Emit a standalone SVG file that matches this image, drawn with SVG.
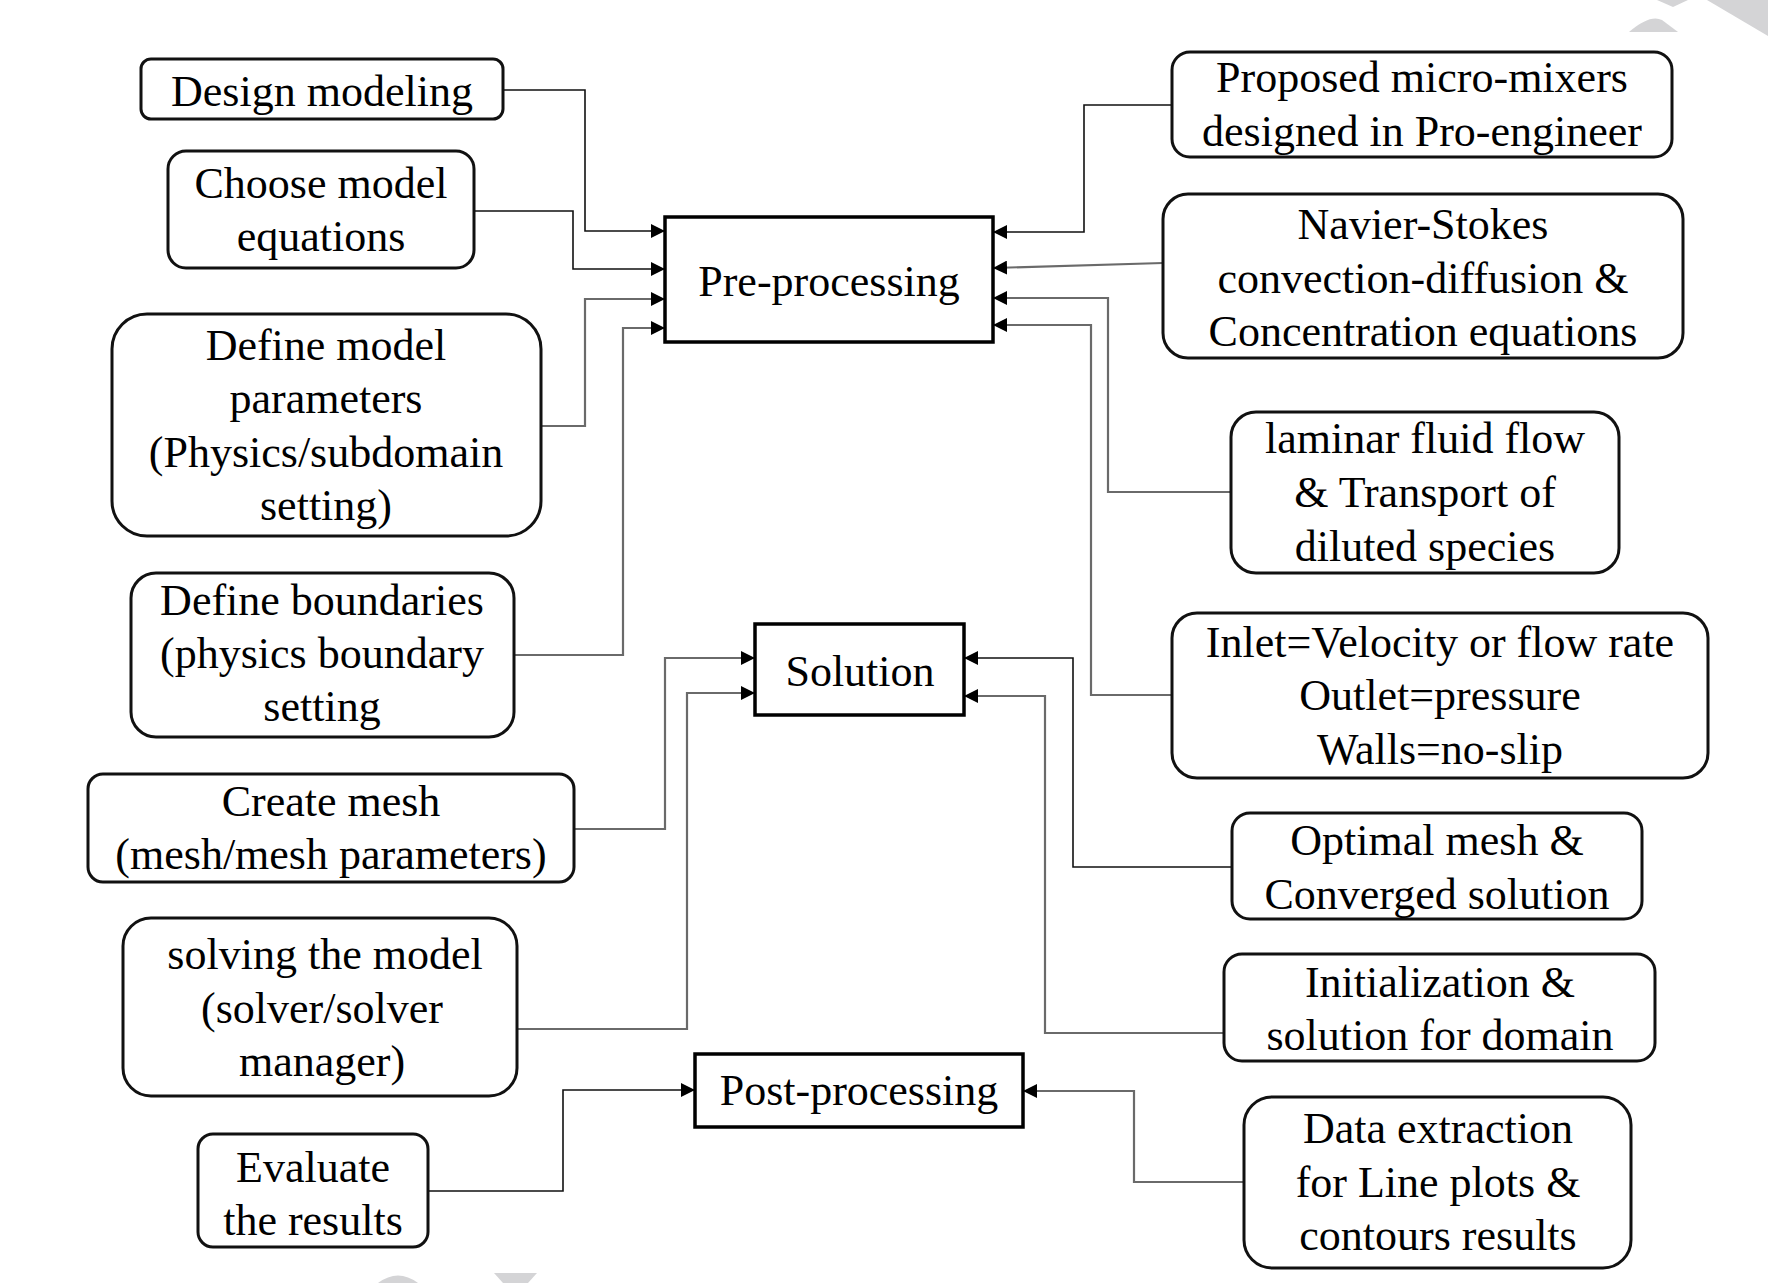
<svg xmlns="http://www.w3.org/2000/svg" width="1768" height="1283" viewBox="0 0 1768 1283">
<style>
.box{fill:#fff;stroke:#111;stroke-width:3}
.proc{fill:#fff;stroke:#000;stroke-width:3.5}
.t{font-family:"Liberation Serif","Times New Roman",serif;font-size:44px;fill:#000;text-anchor:middle}
.ck{fill:none;stroke:#111;stroke-width:1.6}
.cg{fill:none;stroke:#6a6a6a;stroke-width:2.2}
.wm{fill:#d4d4d6}
</style>
<defs>
<marker id="ah" markerUnits="userSpaceOnUse" markerWidth="14" markerHeight="14" viewBox="0 0 14 14" refX="14" refY="7" orient="auto">
<path d="M0,0 L14,7 L0,14 z" fill="#000"/>
</marker>
</defs>
<rect width="1768" height="1283" fill="#fff"/>
<g id="watermark">
<path class="wm" d="M1629,32 Q1650,14 1662,20 L1678,32 Z"/>
<polygon class="wm" points="1657,0 1688,0 1673,7"/>
<polygon class="wm" points="1707,0 1768,0 1768,36"/>
<path class="wm" d="M378,1283 Q398,1268 418,1283 Z"/>
<polygon class="wm" points="494,1273 537,1273 528,1283 503,1283"/>
</g>
<g id="connectors">
<path class="ck" d="M503,90 H585 V231 H665" marker-end="url(#ah)"/>
<path class="ck" d="M474,211 H573 V269 H665" marker-end="url(#ah)"/>
<path class="cg" d="M541,426 H585 V299 H665" marker-end="url(#ah)"/>
<path class="cg" d="M514,655 H623 V328 H665" marker-end="url(#ah)"/>
<path class="cg" d="M574,829 H665 V658 H755" marker-end="url(#ah)"/>
<path class="cg" d="M517,1029 H687 V693 H755" marker-end="url(#ah)"/>
<path class="ck" d="M428,1191 H563 V1090 H695" marker-end="url(#ah)"/>
<path class="ck" d="M1172,105 H1084 V232 H993" marker-end="url(#ah)"/>
<path class="cg" d="M1163,263 L993,268" marker-end="url(#ah)"/>
<path class="cg" d="M1231,492 H1108 V298 H993" marker-end="url(#ah)"/>
<path class="cg" d="M1172,695 H1091 V325 H993" marker-end="url(#ah)"/>
<path class="ck" d="M1232,867 H1073 V658 H964" marker-end="url(#ah)"/>
<path class="cg" d="M1224,1033 H1045 V696 H964" marker-end="url(#ah)"/>
<path class="cg" d="M1244,1182 H1134 V1091 H1023" marker-end="url(#ah)"/>
</g>
<g id="design">
<rect class="box" x="141" y="59" width="362" height="60" rx="10"/>
<text class="t" x="322" y="106">Design modeling</text>
</g>
<g id="choose">
<rect class="box" x="168" y="151" width="306" height="117" rx="18"/>
<text class="t" x="321" y="198">Choose model</text>
<text class="t" x="321" y="251">equations</text>
</g>
<g id="params">
<rect class="box" x="112" y="314" width="429" height="222" rx="35"/>
<text class="t" x="326" y="360">Define model</text>
<text class="t" x="326" y="413">parameters</text>
<text class="t" x="326" y="467">(Physics/subdomain</text>
<text class="t" x="326" y="520">setting)</text>
</g>
<g id="boundaries">
<rect class="box" x="131" y="573" width="383" height="164" rx="25"/>
<text class="t" x="322" y="615">Define boundaries</text>
<text class="t" x="322" y="668">(physics boundary</text>
<text class="t" x="322" y="721">setting</text>
</g>
<g id="mesh">
<rect class="box" x="88" y="774" width="486" height="108" rx="15"/>
<text class="t" x="331" y="816">Create mesh</text>
<text class="t" x="331" y="869">(mesh/mesh parameters)</text>
</g>
<g id="solving">
<rect class="box" x="123" y="918" width="394" height="178" rx="28"/>
<text class="t" x="325" y="969">solving  the model</text>
<text class="t" x="322" y="1023">(solver/solver</text>
<text class="t" x="322" y="1076">manager)</text>
</g>
<g id="evaluate">
<rect class="box" x="198" y="1134" width="230" height="113" rx="15"/>
<text class="t" x="313" y="1182">Evaluate</text>
<text class="t" x="313" y="1235">the results</text>
</g>
<g id="preprocessing">
<rect class="proc" x="665" y="217" width="328" height="125"/>
<text class="t" x="829" y="296">Pre-processing</text>
</g>
<g id="solution">
<rect class="proc" x="755" y="624" width="209" height="91"/>
<text class="t" x="860" y="686">Solution</text>
</g>
<g id="postprocessing">
<rect class="proc" x="695" y="1054" width="328" height="73"/>
<text class="t" x="859" y="1105">Post-processing</text>
</g>
<g id="proposed">
<rect class="box" x="1172" y="52" width="500" height="105" rx="18"/>
<text class="t" x="1422" y="92">Proposed micro-mixers</text>
<text class="t" x="1422" y="146">designed in Pro-engineer</text>
</g>
<g id="navier">
<rect class="box" x="1163" y="194" width="520" height="164" rx="25"/>
<text class="t" x="1423" y="239">Navier-Stokes</text>
<text class="t" x="1423" y="293">convection-diffusion &amp;</text>
<text class="t" x="1423" y="346">Concentration equations</text>
</g>
<g id="laminar">
<rect class="box" x="1231" y="412" width="388" height="161" rx="25"/>
<text class="t" x="1425" y="453">laminar fluid flow</text>
<text class="t" x="1425" y="507">&amp; Transport of</text>
<text class="t" x="1425" y="561">diluted species</text>
</g>
<g id="inlet">
<rect class="box" x="1172" y="613" width="536" height="165" rx="25"/>
<text class="t" x="1440" y="657">Inlet=Velocity  or flow rate</text>
<text class="t" x="1440" y="710">Outlet=pressure</text>
<text class="t" x="1440" y="764">Walls=no-slip</text>
</g>
<g id="optimal">
<rect class="box" x="1232" y="813" width="410" height="106" rx="18"/>
<text class="t" x="1437" y="855">Optimal mesh &amp;</text>
<text class="t" x="1437" y="909">Converged solution</text>
</g>
<g id="init">
<rect class="box" x="1224" y="954" width="431" height="107" rx="18"/>
<text class="t" x="1440" y="997">Initialization  &amp;</text>
<text class="t" x="1440" y="1050">solution for domain</text>
</g>
<g id="data">
<rect class="box" x="1244" y="1097" width="387" height="171" rx="28"/>
<text class="t" x="1438" y="1143">Data extraction</text>
<text class="t" x="1438" y="1197">for Line plots &amp;</text>
<text class="t" x="1438" y="1250">contours results</text>
</g>
</svg>
